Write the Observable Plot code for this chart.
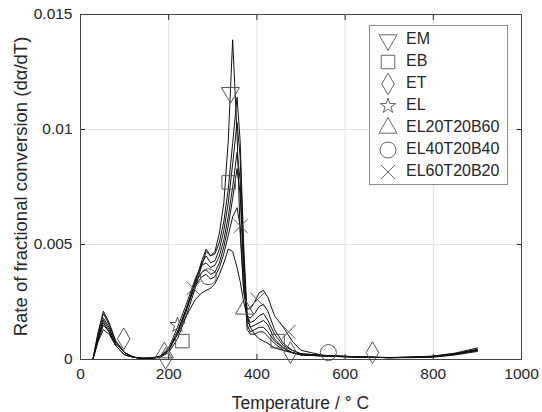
<!DOCTYPE html>
<html><head><meta charset="utf-8">
<script src="https://cdn.jsdelivr.net/npm/d3@7"></script>
<script src="https://cdn.jsdelivr.net/npm/@observablehq/plot@0.6"></script>
<style>body{margin:0;background:#fff} svg{display:block}</style>
</head><body><div id="chart"></div>
<script>
// ---- data ----
const seriesNames = ["EM","EB","ET","EL","EL20T20B60","EL40T20B40","EL60T20B20"];
const temps = [28,40,52,65,80,100,120,140,160,180,200,220,240,260,275,285,295,305,315,325,335,345,355,362,370,378,385,395,405,415,425,440,460,480,500,550,600,650,700,750,800,850,900];
const EM   = [0,.0012,.0021,.0016,.0008,.0003,.0001,.00005,.00005,.0001,.0003,.0009,.0019,.0031,.0041,.0047,.0045,.0047,.0055,.0068,.0095,.0139,.0098,.0055,.0030,.0019,.0018,.0020,.0023,.0024,.0021,.0013,.0007,.0004,.00025,.00018,.00014,.0001,.00008,.00008,.0001,.0002,.00035];
const EB   = [0,.0011,.0020,.0015,.0008,.0003,.0001,.00005,.00005,.0001,.0004,.0011,.0021,.0033,.0043,.0048,.0045,.0046,.0051,.0060,.0074,.0094,.0114,.0095,.0050,.0019,.0016,.0017,.0019,.0020,.0017,.0011,.0006,.0004,.00025,.00018,.00014,.0001,.00008,.00009,.00012,.00022,.0004];
const ET   = [0,.0010,.0018,.0014,.0007,.0003,.0001,.00005,.00005,.0001,.0004,.0012,.0022,.0034,.0042,.0045,.0042,.0043,.0048,.0056,.0068,.0085,.0103,.0088,.0045,.0017,.0014,.0015,.0016,.0017,.0015,.0009,.0005,.0003,.00022,.00017,.00013,.0001,.00008,.00009,.00013,.00025,.00045];
const EL   = [0,.0009,.0017,.0013,.0007,.0003,.0001,.00005,.00006,.00012,.0005,.0014,.0024,.0035,.0041,.0042,.0040,.0041,.0045,.0052,.0062,.0075,.0090,.0078,.0040,.0015,.0012,.0013,.0014,.0014,.0012,.0008,.0005,.0003,.0002,.00016,.00012,.0001,.00008,.0001,.00014,.00025,.0004];
const EL20 = [0,.0008,.0013,.0011,.0006,.0002,.0001,.00005,.00006,.00015,.0004,.0011,.0019,.0026,.0029,.0030,.0031,.0033,.0037,.0042,.0048,.0047,.0040,.0034,.0025,.0019,.0014,.0011,.0009,.0008,.0007,.0005,.0004,.0003,.0002,.00015,.00012,.0001,.00009,.0001,.00015,.00028,.0005];
const EL40 = [0,.0009,.0016,.0012,.0006,.0002,.0001,.00005,.00006,.00012,.0004,.0012,.0022,.0033,.0038,.0039,.0037,.0038,.0042,.0049,.0058,.0070,.0083,.0072,.0038,.0013,.0011,.0011,.0012,.0012,.0010,.0007,.0004,.0003,.0002,.00015,.00012,.0001,.00008,.0001,.00013,.00024,.00042];
const EL60 = [0,.0008,.0015,.0012,.0006,.0002,.0001,.00005,.00006,.00012,.0004,.0012,.0022,.0032,.0036,.0037,.0035,.0036,.0040,.0046,.0054,.0062,.0066,.0058,.0030,.0022,.0022,.0025,.0029,.0030,.0027,.0019,.0014,.0008,.0004,.00018,.00013,.0001,.00008,.0001,.00013,.00024,.0004];
const seriesValues = [EM, EB, ET, EL, EL20, EL40, EL60];

// marker positions (temperature, value)
const markerT = [[340],[231,336,447],[98,193,476,662],[220],[190,372],[290,562],[256,363,401,472]];
const markerV = [[.0116],[.0008,.0077,.0008],[.0009,.00005,.0003,.0003],[.0015],[.0003,.0022],[.0036,.0003],[.0031,.0058,.0026,.0012]];
const markerSymbols = ["triangle","square","diamond","star","triangle","circle","times"];
const markerRotate  = [180,0,0,0,0,0,0];
const markerR       = [6.7,7.6,6.6,4.8,6.7,8,6.4];

const xTicks = [0,200,400,600,800,1000];
const yTicks = [0,0.005,0.01,0.015];
const yTickLabels = ["0","0.005","0.01","0.015"];

// ---- build tables ----
const rows = [];
seriesNames.forEach((n,i)=>seriesValues[i].forEach((v,j)=>rows.push({name:n,T:temps[j],v})));

const W=542,H=412,mL=80,mR=21,mT=14,mB=53;
const FONT = "'Liberation Sans', Arial, Helvetica, sans-serif";
const ink = "#262626";

const dotMarks = seriesNames.map((n,i)=>Plot.dot(markerT[i].map((t,k)=>({T:t,v:markerV[i][k]})),{
  x:"T", y:"v", symbol: markerSymbols[i], r: markerR[i], rotate: markerRotate[i],
  fill:"none", stroke:"#555", strokeWidth:1
}));

const chart = Plot.plot({
  width:W, height:H, marginLeft:mL, marginRight:mR, marginTop:mT, marginBottom:mB,
  style:{fontFamily:FONT, fontSize:"15.5px", color:ink, background:"#fff"},
  x:{domain:[0,1000], label:null},
  y:{domain:[0,0.015], label:null},
  marks:[
    Plot.gridX(xTicks.slice(1,-1),{stroke:"#e2e2e2", strokeOpacity:1}),
    Plot.gridY(yTicks.slice(1,-1),{stroke:"#e2e2e2", strokeOpacity:1}),
    Plot.line(rows,{x:"T", y:"v", z:"name", stroke:"#111", strokeWidth:1}),
    ...dotMarks,
    Plot.axisX(xTicks,{anchor:"bottom", tickSize:-5, tickPadding:13, tickFormat:d=>String(d), stroke:ink, fill:ink}),
    Plot.axisX(xTicks,{anchor:"top", tickSize:-5, tickFormat:()=>"", stroke:ink}),
    Plot.axisY(yTicks,{anchor:"left", tickSize:-5, tickPadding:13, tickFormat:(d,i)=>yTickLabels[i], stroke:ink, fill:ink}),
    Plot.axisY(yTicks,{anchor:"right", tickSize:-5, tickFormat:()=>"", stroke:ink}),
    Plot.frame({stroke:"#444", strokeWidth:1})
  ]
});
document.getElementById("chart").appendChild(chart);

// ---- axis titles and legend (layout) ----
const svg = d3.select(chart);
svg.append("text").attr("x",(mL+W-mR)/2).attr("y",404).attr("text-anchor","middle")
  .attr("dominant-baseline","middle").attr("fill",ink).style("font-size","17.5px").style("font-family",FONT)
  .text("Temperature / \u00B0 C");
svg.append("text").attr("transform",`translate(22,${(mT+H-mB)/2}) rotate(-90)`).attr("text-anchor","middle")
  .attr("dominant-baseline","middle").attr("fill",ink).style("font-size","18.5px").style("font-family",FONT)
  .text("Rate of fractional conversion (d\u03B1/dT)");

const symMap = {triangle:d3.symbolTriangle, square:d3.symbolSquare, diamond:d3.symbolDiamond, star:d3.symbolStar, circle:d3.symbolCircle, times:d3.symbolTimes};
const lg = svg.append("g");
const lx0=369, ly0=25, lw=138, lh=159, step=22, first=40;
lg.append("rect").attr("x",lx0+0.5).attr("y",ly0+0.5).attr("width",lw).attr("height",lh)
  .attr("fill","#fff").attr("stroke","#8c8c8c");
seriesNames.forEach((n,i)=>{
  const yy = first + i*step;
  const g = lg.append("g").attr("transform",`translate(388,${yy}) rotate(${markerRotate[i]})`);
  if (markerSymbols[i]==="circle") {
    g.append("circle").attr("r",markerR[i]).attr("fill","none").attr("stroke","#666");
  } else {
    g.append("path").attr("d",d3.symbol(symMap[markerSymbols[i]], Math.PI*markerR[i]*markerR[i])())
      .attr("fill","none").attr("stroke","#666");
  }
  lg.append("text").attr("x",406).attr("y",yy).attr("text-anchor","start").attr("dominant-baseline","middle").attr("fill",ink)
    .style("font-size","16px").style("font-family",FONT).text(n);
});
</script></body></html>
